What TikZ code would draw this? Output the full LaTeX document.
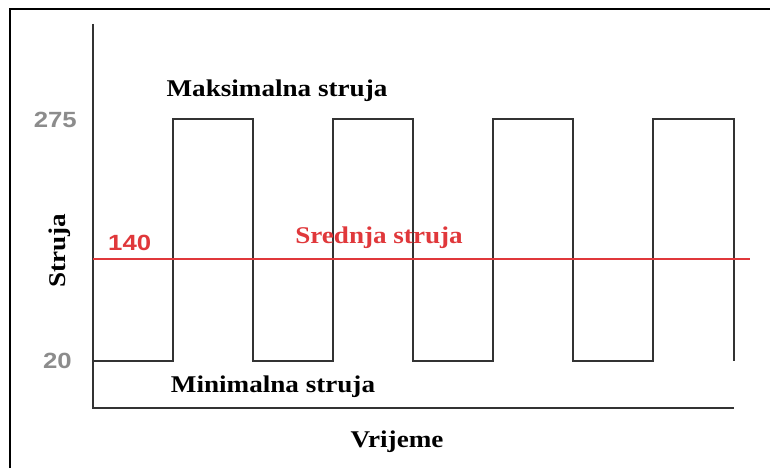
\documentclass[tikz,border=0pt]{standalone}
\usepackage{fontspec}
\usepackage{graphicx}
\setmainfont{Liberation Serif}
\setsansfont{Liberation Sans}
\definecolor{wave}{HTML}{333333}
\definecolor{meanred}{HTML}{E0383B}
\definecolor{tickgray}{HTML}{8C8C8C}
\newcommand\wideser[1]{\scalebox{1.13}[1]{#1}}
\newcommand\widesan[1]{\scalebox{1.17}[1]{#1}}
\tikzset{
  lbl/.style={font=\fontsize{24}{28}\selectfont\bfseries, inner sep=0pt},
  tick/.style={font=\sffamily\fontsize{22}{26}\selectfont\bfseries, text=tickgray, inner sep=0pt},
  axisline/.style={line width=2.4pt, draw=wave},
  waveline/.style={line width=2.4pt, draw=wave},
  meanline/.style={line width=2pt, draw=meanred}
}
\begin{document}
\begin{tikzpicture}[x=1pt,y=-1pt]
\useasboundingbox (0,0) rectangle (770,468);
\fill[white] (0,0) rectangle (770,468);
% frame
\draw[line width=1.6pt] (10,468) -- (10,9) -- (770,9);
% axes
\coordinate (ytop) at (93,24);
\coordinate (orig) at (93,408);
\coordinate (xend) at (734,408);
\draw[axisline] (ytop) -- (orig) -- (xend);
% square wave
\draw[waveline, line join=miter] (93,361) -- (173,361) -- (173,119) -- (253,119) -- (253,361)
  -- (333,361) -- (333,119) -- (413,119) -- (413,361)
  -- (493,361) -- (493,119) -- (573,119) -- (573,361)
  -- (653,361) -- (653,119) -- (734,119) -- (734,361);
% mean line
\coordinate (m0) at (93,259);
\coordinate (m1) at (750,259);
\draw[meanline] (m0) -- (m1);
% labels
\node[tick, anchor=east] (t275) at (77,120) {\widesan{275}};
\node[tick, anchor=east] (t20) at (72,361) {\widesan{20}};
\node[tick, text=meanred, anchor=west] (t140) at (108,243) {\widesan{140}};
\node[lbl, rotate=90] (ylab) at (60,251) {\wideser{Struja}};
\node[lbl, anchor=base] (maks) at (277,97) {\wideser{Maksimalna struja}};
\node[lbl, anchor=base, text=meanred] (sred) at (379,243) {\wideser{Srednja struja}};
\node[lbl, anchor=base] (mini) at (273,392) {\wideser{Minimalna struja}};
\node[lbl, anchor=base] (vrij) at (397,447) {\wideser{Vrijeme}};
\end{tikzpicture}
\end{document}
